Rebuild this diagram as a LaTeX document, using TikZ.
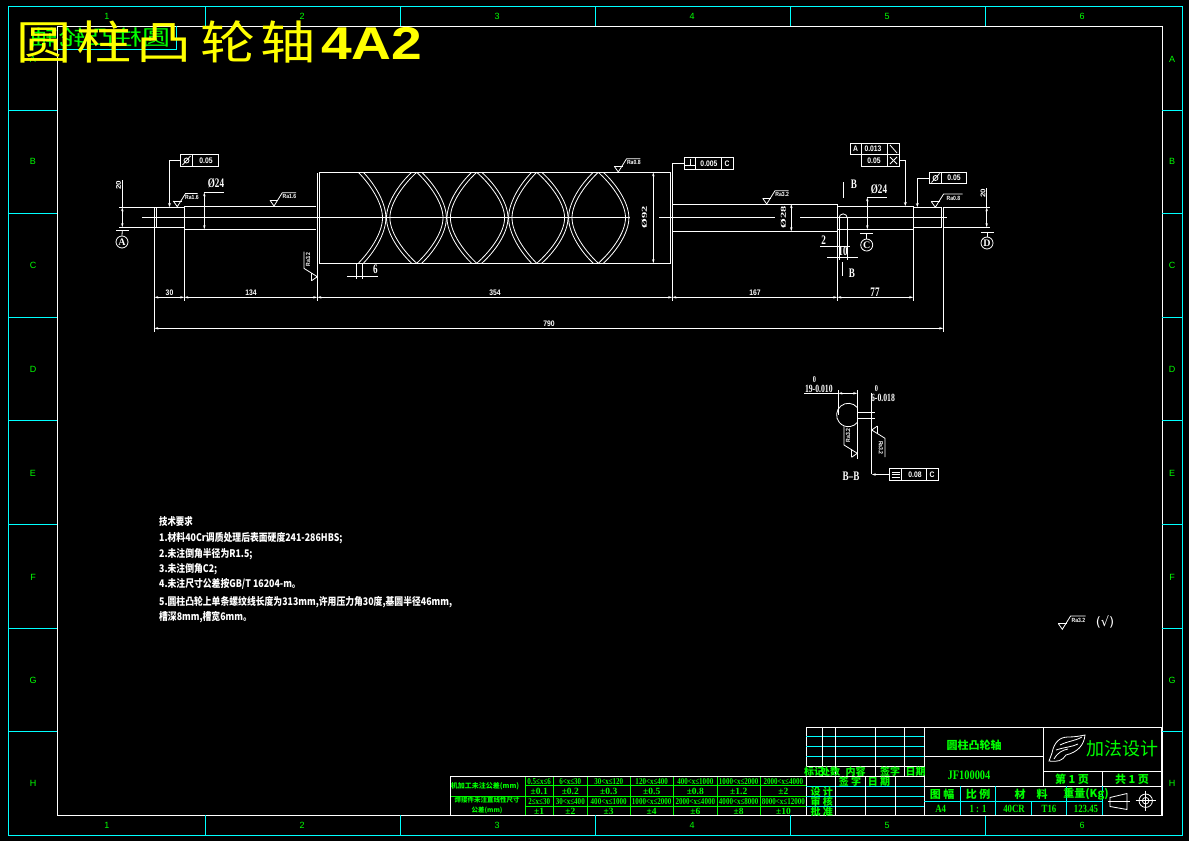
\documentclass[tikz,border=0pt]{standalone}
\usepackage{fontspec}
\usepackage{tikz}
\usetikzlibrary{arrows.meta}
\setmainfont{Liberation Serif}
\newfontfamily\cjk{Noto Sans CJK SC}
\newfontfamily\dejavu{DejaVu Sans}
\newfontfamily\arialfont{Liberation Sans}
\definecolor{dwgcyan}{RGB}{0,255,255}
\definecolor{dwggreen}{RGB}{0,255,0}
\definecolor{dwgyellow}{RGB}{255,255,0}
\tikzset{
  line/.style={draw=white, line width=0.8pt},
  cyanline/.style={draw=dwgcyan, line width=0.8pt},
  greenline/.style={draw=dwggreen, line width=0.8pt},
  dimline/.style={line, {Stealth[open,length=4pt,width=2.4pt]}-{Stealth[open,length=4pt,width=2.4pt]}},
  arrowline/.style={line, -{Stealth[open,length=4pt,width=3pt]}},
  tinytext/.style={text=white, inner sep=0pt, transform shape, xscale=0.85, font=\arialfont\bfseries\fontsize{8}{8}\selectfont},
  dimtext/.style={text=white, inner sep=0pt, transform shape, xscale=0.7, font=\bfseries\fontsize{13}{13}\selectfont},
  diatext/.style={text=white, inner sep=0pt, transform shape, xscale=0.6, font=\bfseries\fontsize{12.5}{12.5}\selectfont},
  techtext/.style={text=white, inner sep=0pt, anchor=west, transform shape, xscale=0.84, font=\cjk\bfseries\fontsize{10.5}{11}\selectfont},
  frametext/.style={text=dwggreen, inner sep=0pt, font=\arialfont\fontsize{9}{9}\selectfont},
  cjkgreen/.style={text=dwggreen, inner sep=0pt, font=\cjk\bfseries\fontsize{10}{11}\selectfont},
  latingreen/.style={text=dwggreen, inner sep=0pt, transform shape, xscale=0.8, font=\bfseries\fontsize{11}{11}\selectfont},
  cellrange/.style={text=dwggreen, inner sep=0pt, transform shape, xscale=0.78, font=\bfseries\fontsize{9}{9}\selectfont},
  cellvalue/.style={text=dwggreen, inner sep=0pt, font=\bfseries\fontsize{9.5}{9.5}\selectfont},
  gtolbox/.style={draw=white, line width=0.8pt, inner sep=0pt},
  pics/rough/.style n args={2}{code={
    \draw[line] (-4,-5.7) -- (0,0) -- (8.3,-13.3) -- (#1,-13.3);
    \draw[line] (-4,-5.7) -- (4.2,-5.7);
    \node (roughlabel) at ({(#1+9)/2},-9.3) [tinytext, font=\arialfont\bfseries\fontsize{6}{6}\selectfont] {#2};
  }},
}
\begin{document}
\begin{tikzpicture}[x=1pt, y=-1pt]
  \useasboundingbox[fill=black] (0,0) rectangle (1189,841);

  \draw[cyanline] (8,6) rectangle (1182,835);
  \draw[line] (57,26) rectangle (1162,815);
  \foreach \x in {205,400,595,790,985} {
    \draw[cyanline] (\x,6) -- (\x,26);
    \draw[cyanline] (\x,815) -- (\x,835);
  }
  \foreach \y in {110,213,317,420,524,628,731} {
    \draw[cyanline] (8,\y) -- (57,\y);
    \draw[cyanline] (1162,\y) -- (1182,\y);
  }
  \foreach \x/\t in {107/1,302/2,497/3,692/4,887/5,1082/6} {
    \node (top\t) at (\x,16) [frametext] {\t};
    \node (bottom\t) at (\x,825) [frametext] {\t};
  }
  \foreach \y/\t in {59/A,161/B,265/C,369/D,473/E,577/F,680/G,783/H} {
    \node (left\t) at (33,\y) [frametext] {\t};
    \node (right\t) at (1172,\y) [frametext] {\t};
  }

  \draw[cyanline] (58,49) -- (176.5,49) -- (176.5,26);
  \node (mirrortitle) at (100,37.5) [text=dwggreen, inner sep=0pt, transform shape, xscale=-1, yscale=0.75, font=\cjk\fontsize{28}{28}\selectfont] {圆柱凸轮轴};
  \node (bigtitle) at (16,42) [anchor=west, text=dwgyellow, inner sep=0pt, transform shape, xscale=1.2, font=\cjk\fontsize{46}{46}\selectfont]
    {圆\hspace{4pt}柱\hspace{4pt}凸\hspace{8pt}轮\hspace{4pt}轴\hspace{4pt}{\arialfont\bfseries 4A2}};

  % shaft
  \draw[line] (119,207.3) -- (156.7,207.3) -- (156.7,227.3) -- (119,227.3);
  \draw[line] (156.7,207.3) -- (184.3,207.3);
  \draw[line] (156.7,227.3) -- (184.3,227.3);
  \draw[line] (184.3,206.3) -- (316,206.3);
  \draw[line] (184.3,229.3) -- (316,229.3);
  \draw[line] (319,172.3) rectangle (670.7,263.3);
  \draw[line] (672.3,204) -- (837.3,204) -- (837.3,231.3) -- (672.3,231.3);
  \draw[line] (837.3,206.3) -- (913.3,206.3) -- (913.3,229.3) -- (837.3,229.3);
  \draw[line] (913.3,207.3) -- (941.7,207.3) -- (941.7,227.3) -- (913.3,227.3);
  \draw[line] (943.3,207.3) -- (990,207.3);
  \draw[line] (943.3,227.3) -- (990,227.3);
  \draw[line] (142,217.3) -- (630,217.3);
  \draw[line] (659,217.3) -- (775,217.3);
  \draw[line] (800,217.3) -- (947,217.3);

  % cam groove
  \foreach \s in {-1,1} {
    \foreach \T/\C in {360.8/384.2,419.2/444.7,479.2/506.3,539.2/566.3,600.8/627.2,414.2/388.2,474.2/448.7,534.2/510.3,595.8/570.3} {
      \draw[line] (\T+\s*2.5,172.3) .. controls ({\T+\s*2.5+0.45*(\C-\T)},183) and (\C+\s*1.7,202) .. (\C+\s*1.7,217.8)
        .. controls (\C+\s*1.7,233.6) and ({\T+\s*2.5+0.45*(\C-\T)},252.6) .. (\T+\s*2.5,263.3);
    }
  }

  % extension lines
  \draw[line] (154.3,207) -- (154.3,331.7);
  \draw[line] (184.3,206) -- (184.3,300.7);
  \draw[line] (317.3,173) -- (317.3,300.7);
  \draw[line] (672.3,163) -- (672.3,300.7);
  \draw[line] (837.3,231) -- (837.3,300.7);
  \draw[line] (913.3,229) -- (913.3,300.7);
  \draw[line] (943.3,207) -- (943.3,331.7);

  % dimensions
  \draw[dimline] (154.3,297.3) -- (184.3,297.3);
  \draw[dimline] (184.3,297.3) -- (317.3,297.3);
  \draw[dimline] (317.3,297.3) -- (672.3,297.3);
  \draw[dimline] (672.3,297.3) -- (837.3,297.3);
  \draw[dimline] (837.3,297.3) -- (913.3,297.3);
  \draw[dimline] (154.3,328.3) -- (943.3,328.3);
  \node (dimleftend) at (169.5,293) [tinytext] {30};
  \node (dimleftshaft) at (251,293) [tinytext] {134};
  \node (dimcylinder) at (495,293) [tinytext] {354};
  \node (dimrightshaft) at (755,293) [tinytext] {167};
  \node (dimseventyseven) at (875,292) [dimtext] {77};
  \node (dimtotal) at (549,324) [tinytext] {790};

  \draw[dimline] (653.3,172.3) -- (653.3,263.3);
  \node (diacylinder) at (644.3,217.3) [diatext, rotate=90] {Ø92};
  \draw[dimline] (791.3,204) -- (791.3,231.3);
  \node (diarightshaft) at (783.3,217.3) [diatext, rotate=90] {Ø28};

  \draw[line] (204.3,192.3) -- (223.7,192.3);
  \draw[dimline] (204.3,192.3) -- (204.3,229.3);
  \node (dialeft) at (216,183) [dimtext] {Ø24};
  \draw[line] (867.3,197.3) -- (887,197.3);
  \draw[dimline] (867.3,197.3) -- (867.3,229.3);
  \node (diaright) at (879,189) [dimtext] {Ø24};

  \draw[line] (122.3,180) -- (122.3,207.3);
  \draw[dimline] (122.3,207.3) -- (122.3,227.3);
  \node (endleft) at (118.5,185) [tinytext, rotate=90] {20};
  \draw[line] (986.7,188) -- (986.7,207.3);
  \draw[dimline] (986.7,207.3) -- (986.7,227.3);
  \node (endright) at (983,193) [tinytext, rotate=90] {20};

  \draw[line] (356.7,263.3) -- (356.7,279.3);
  \draw[line] (362.3,263.3) -- (362.3,279.3);
  \draw[line] (347.3,276) -- (378,276);
  \node (groovewidth) at (375.5,269.5) [dimtext] {6};

  % datum circles
  \foreach \n/\x/\y/\t in {dA/122/242/A,dC/866.7/245/C,dD/987/243/D} {
    \node (\n) at (\x,\y) [circle, draw=white, line width=0.8pt, minimum size=12pt, inner sep=0pt, text=white, font=\bfseries\fontsize{10}{10}\selectfont] {\t};
  }
  \draw[line] (116,230.3) -- (129,230.3);
  \draw[line] (122.3,230.3) -- (dA.north);
  \draw[line] (860,233.3) -- (873,233.3);
  \draw[line] (866.7,233.3) -- (dC.north);
  \draw[line] (981,232.3) -- (994,232.3);
  \draw[line] (987,232.3) -- (dD.north);

  % keyway
  \draw[line] (839,218) arc[start angle=180, end angle=0, radius=4.15pt];
  \draw[line] (839,218) -- (839,260);
  \draw[line] (847.3,218) -- (847.3,260);
  \draw[line] (827,257.3) -- (857.7,257.3);
  \draw[line] (820,246.3) -- (850,246.3);
  \node (keydepth) at (823.7,240) [dimtext] {2};
  \node (keylength) at (843,251) [dimtext] {10};
  \draw[line] (843.3,182) -- (843.3,198);
  \draw[line] (842.3,262) -- (842.3,276);
  \node (cutBtop) at (854,184) [dimtext] {B};
  \node (cutBbottom) at (852,273) [dimtext] {B};

  % tolerance frames
  \node (gtolA) at (199.5,160.5) [gtolbox, minimum width=38.4pt, minimum height=12.4pt] {};
  \draw[line] (192.3,154.3) -- (192.3,166.7);
  \draw[line] (182.5,165) -- (190.5,156);
  \draw[line] (186.5,160.5) circle (2.5);
  \node (gtolAtext) at (206,160.5) [tinytext] {0.05};
  \coordinate (gtolAend) at (169.5,207);
  \draw[arrowline] (gtolA.west) -| (gtolAend);

  \node (gtolB) at (708.8,163.3) [gtolbox, minimum width=49pt, minimum height=12pt] {};
  \draw[line] (695.3,157.3) -- (695.3,169.3);
  \draw[line] (721.3,157.3) -- (721.3,169.3);
  \draw[line] (684.3,165.5) -- (695.3,165.5);
  \draw[line] (690,158.5) -- (690,165.5);
  \node (gtolBtext) at (709,163.3) [tinytext] {0.005};
  \node (gtolBdatum) at (727,163.3) [tinytext] {C};
  \coordinate (gtolBend) at (672.3,172);
  \draw[line] (gtolB.west) -| (gtolBend);

  \node (gtolC) at (875,148.8) [gtolbox, minimum width=49.4pt, minimum height=11pt] {};
  \node (gtolD) at (880.5,160.3) [gtolbox, minimum width=38.4pt, minimum height=12pt] {};
  \draw[line] (861.3,143.3) -- (861.3,154.3);
  \draw[line] (887.3,143.3) -- (887.3,166.3);
  \node (gtolCsym) at (855.5,149) [tinytext] {A};
  \node (gtolCtext) at (873,148.7) [tinytext] {0.013};
  \node (gtolDtext) at (874,160.3) [tinytext] {0.05};
  \draw[line] (890,145) -- (897,153);
  \draw[line] (890,157) -- (897,164);
  \draw[line] (890,164) -- (897,157);
  \coordinate (gtolDend) at (905.3,206);
  \draw[arrowline] (gtolD.east) -| (gtolDend);

  \node (gtolE) at (948,178) [gtolbox, minimum width=37.4pt, minimum height=11.4pt] {};
  \draw[line] (941.7,172.3) -- (941.7,183.7);
  \draw[line] (931.5,182.5) -- (939.5,173.5);
  \draw[line] (935.5,178) circle (2.5);
  \node (gtolEtext) at (954,178) [tinytext] {0.05};
  \coordinate (gtolEend) at (917.3,207);
  \draw[arrowline] (gtolE.west) -| (gtolEend);

  % roughness
  \pic at (177.3,206.7) {rough={20.3}{Ra1.6}};
  \pic at (274,206) {rough={22}{Ra1.6}};
  \pic at (618.3,172) {rough={22}{Ra0.8}};
  \pic at (766.7,204) {rough={22}{Ra3.2}};
  \pic at (935.3,207.3) {rough={27.4}{Ra0.8}};
  \pic[rotate=90] at (317.3,276.7) {rough={25}{Ra3.2}};
  \pic[rotate=90] at (857.3,453.3) {rough={27}{Ra3.2}};
  \pic[rotate=-90] at (871.7,430) {rough={27}{Ra3.2}};
  \pic at (1062.3,629.3) {rough={23.4}{Ra3.2}};
  \node (checkmark) at (1105,622) [text=white, inner sep=0pt, font=\dejavu\fontsize{13}{13}\selectfont] {(√)};

  % section B-B
  \draw[line] (857.3,390) -- (857.3,459);
  \draw[line] (838.3,390) -- (838.3,415);
  \draw[line] (857.3,407.5) arc[start angle=39.8, end angle=320.2, radius=11.7pt];
  \draw[line] (857.3,412.3) -- (875,412.3);
  \draw[line] (857.3,418.3) -- (875,418.3);
  \draw[line] (871.7,392.7) -- (871.7,474);
  \draw[line] (804,393.3) -- (838.3,393.3);
  \draw[dimline] (838.3,393.3) -- (857.3,393.3);
  \node (bbwidth) at (818.8,388.7) [dimtext, font=\bfseries\fontsize{11}{11}\selectfont] {19-0.010};
  \node (bbwidthsup) at (814.5,380) [dimtext, font=\bfseries\fontsize{9}{9}\selectfont] {0};
  \node (bbdepth) at (883,398) [dimtext, font=\bfseries\fontsize{11}{11}\selectfont] {6-0.018};
  \node (bbdepthsup) at (876.5,389) [dimtext, font=\bfseries\fontsize{9}{9}\selectfont] {0};
  \node (gtolF) at (914,474.5) [gtolbox, minimum width=49.4pt, minimum height=11.6pt] {};
  \draw[line] (901.7,468.7) -- (901.7,480.3);
  \draw[line] (926.7,468.7) -- (926.7,480.3);
  \foreach \y in {472,474.5,477} {
    \draw[line] (891.5,\y) -- (900,\y);
  }
  \node (gtolFtext) at (915,474.5) [tinytext] {0.08};
  \node (gtolFdatum) at (932,474.5) [tinytext] {C};
  \coordinate (gtolFstart) at (871.7,474.5);
  \draw[line, -{Stealth[open,length=4pt,width=2.4pt]}] (gtolF.west) -- (gtolFstart);
  \node (sectionname) at (851,476) [dimtext] {B--B};

  % notes
  \node (techhead) at (159,521) [techtext, xscale=0.95] {技术要求};
  \node (techone) at (159,537.7) [techtext] {1.材料40Cr调质处理后表面硬度241-286HBS;};
  \node (techtwo) at (159,554.3) [techtext] {2.未注倒角半径为R1.5;};
  \node (techthree) at (159,569) [techtext] {3.未注倒角C2;};
  \node (techfour) at (159,584.3) [techtext] {4.未注尺寸公差按GB/T 16204-m。};
  \node (techfive) at (159,601.7) [techtext] {5.圆柱凸轮上单条螺纹线长度为313mm,许用压力角30度,基圆半径46mm,};
  \node (techsix) at (159,616.7) [techtext] {槽深8mm,槽宽6mm。};

  % tolerance table
  \draw[greenline] (525,776.7) -- (525,815);
  \draw[greenline] (525,785.7) -- (806.7,785.7);
  \draw[greenline] (450.7,796) -- (806.7,796);
  \draw[greenline] (525,806.7) -- (806.7,806.7);
  \foreach \x in {553.3,587.3,630,673.3,717.3,760} {
    \draw[greenline] (\x,776.7) -- (\x,815);
  }
  \draw[line] (806.7,776.7) -- (450.7,776.7) -- (450.7,815);
  \foreach \x/\n/\t/\v in {539.2/a/0.5≤x≤6/0.1,570.3/b/6<x≤30/0.2,608.7/c/30<x≤120/0.3,651.7/d/120<x≤400/0.5,695.3/e/400<x≤1000/0.8,738.7/f/1000<x≤2000/1.2,783.4/g/2000<x≤4000/2} {
    \node (rangeup\n) at (\x,781.2) [cellrange] {\t};
    \node (valueup\n) at (\x,791) [cellvalue] {±\v};
  }
  \foreach \x/\n/\t/\v in {539.2/a/2≤x≤30/1,570.3/b/30<x≤400/2,608.7/c/400<x≤1000/3,651.7/d/1000<x≤2000/4,695.3/e/2000<x≤4000/6,738.7/f/4000<x≤8000/8,783.4/g/8000<x≤12000/10} {
    \node (rangedown\n) at (\x,801.5) [cellrange] {\t};
    \node (valuedown\n) at (\x,811) [cellvalue] {±\v};
  }
  \node (tablerowone) at (485,786) [cjkgreen, font=\cjk\bfseries\fontsize{7}{7}\selectfont] {机加工未注公差(mm)};
  \node (tablerowtwo) at (487,805.5) [cjkgreen, align=center, font=\cjk\bfseries\fontsize{6.5}{10}\selectfont] {焊接件未注直线性尺寸\\公差(mm)};

  % title block
  \draw[line] (806.3,727.3) rectangle (1161.7,815);
  \foreach \y in {736.3,746.3,756.3,786.3,796.3,806.3} {
    \draw[cyanline] (806.3,\y) -- (924.3,\y);
  }
  \draw[line] (806.3,766.3) -- (924.3,766.3);
  \draw[line] (806.3,776.3) -- (924.3,776.3);
  \foreach \x in {822.3,835.3,875.3,904.3} {
    \draw[line] (\x,727.3) -- (\x,776.3);
  }
  \foreach \x in {835.3,865.7,895.7} {
    \draw[line] (\x,776.3) -- (\x,815);
  }
  \draw[line] (924.3,727.3) -- (924.3,815);
  \draw[line] (1043.3,727.3) -- (1043.3,786.3);
  \draw[line] (924.3,756.3) -- (1043.3,756.3);
  \draw[line] (924.3,786.3) -- (1161.7,786.3);
  \draw[line] (1043.3,771.3) -- (1161.7,771.3);
  \draw[line] (1102.3,771.3) -- (1102.3,786.3);
  \draw[cyanline] (924.3,801.7) -- (1102.3,801.7);
  \foreach \x in {960.3,995.7,1066.3,1102.3} {
    \draw[cyanline] (\x,786.3) -- (\x,815);
  }
  \draw[cyanline] (1031.7,801.7) -- (1031.7,815);

  \foreach \x/\n/\t in {814/a/标记,830/b/处数,855.7/c/内容,890/d/签字,915.7/e/日期} {
    \node (header\n) at (\x,771.5) [cjkgreen] {\t};
  }
  \node (signname) at (850,781.7) [cjkgreen] {签 字};
  \node (signdate) at (879,781.7) [cjkgreen] {日 期};
  \node (designrow) at (821.7,791.7) [cjkgreen] {设 计};
  \node (checkrow) at (821.7,801.7) [cjkgreen] {审 核};
  \node (approverow) at (821.7,811.7) [cjkgreen] {批 准};

  \node (partname) at (974,745) [cjkgreen, font=\cjk\bfseries\fontsize{11}{11}\selectfont] {圆柱凸轮轴};
  \node (partnumber) at (969,775) [latingreen, font=\bfseries\fontsize{13}{13}\selectfont] {JF100004};
  \node (company) at (1122,749) [cjkgreen, font=\cjk\fontsize{18}{18}\selectfont] {加法设计};
  \node (sheetno) at (1072,779) [cjkgreen, font=\cjk\bfseries\fontsize{11}{11}\selectfont] {第 1 页};
  \node (sheetall) at (1132,779) [cjkgreen, font=\cjk\bfseries\fontsize{11}{11}\selectfont] {共 1 页};
  \foreach \x/\n/\t in {942/a/图 幅,978/b/比 例,1031/c/材　料,1086/d/重量(Kg)} {
    \node (infohead\n) at (\x,794) [cjkgreen, font=\cjk\bfseries\fontsize{11}{11}\selectfont] {\t};
  }
  \foreach \x/\n/\t in {940.7/a/A4,978/b/1 : 1,1014/c/40CR,1049/d/T16,1086/e/123.45} {
    \node (infoval\n) at (\x,809) [latingreen] {\t};
  }

  \draw[line] (1052,753) .. controls (1054,742) and (1060,737) .. (1068,737) .. controls (1075,737) and (1080,736) .. (1085,735) .. controls (1084,745) and (1078,752) .. (1066,755) .. controls (1062,761) and (1058,762) .. (1049,761) -- (1052,753);
  \draw[line] (1060,745) .. controls (1068,741) and (1075,741) .. (1082,737);
  \draw[line] (1056,750) .. controls (1065,747) and (1072,747) .. (1078,744);
  \draw[line] (1054,759) .. controls (1058,752) and (1063,750) .. (1068,749);

  \draw[line] (1110,797.5) -- (1127,793.5) -- (1127,809.5) -- (1110,806.5) -- cycle;
  \draw[line] (1108,801.5) -- (1130,801.5);
  \draw[line] (1145.7,800.7) circle (6.7);
  \draw[line] (1145.7,800.7) circle (3.3);
  \draw[line] (1135.5,800.7) -- (1156,800.7);
  \draw[line] (1145.7,790.5) -- (1145.7,811);
\end{tikzpicture}
\end{document}
